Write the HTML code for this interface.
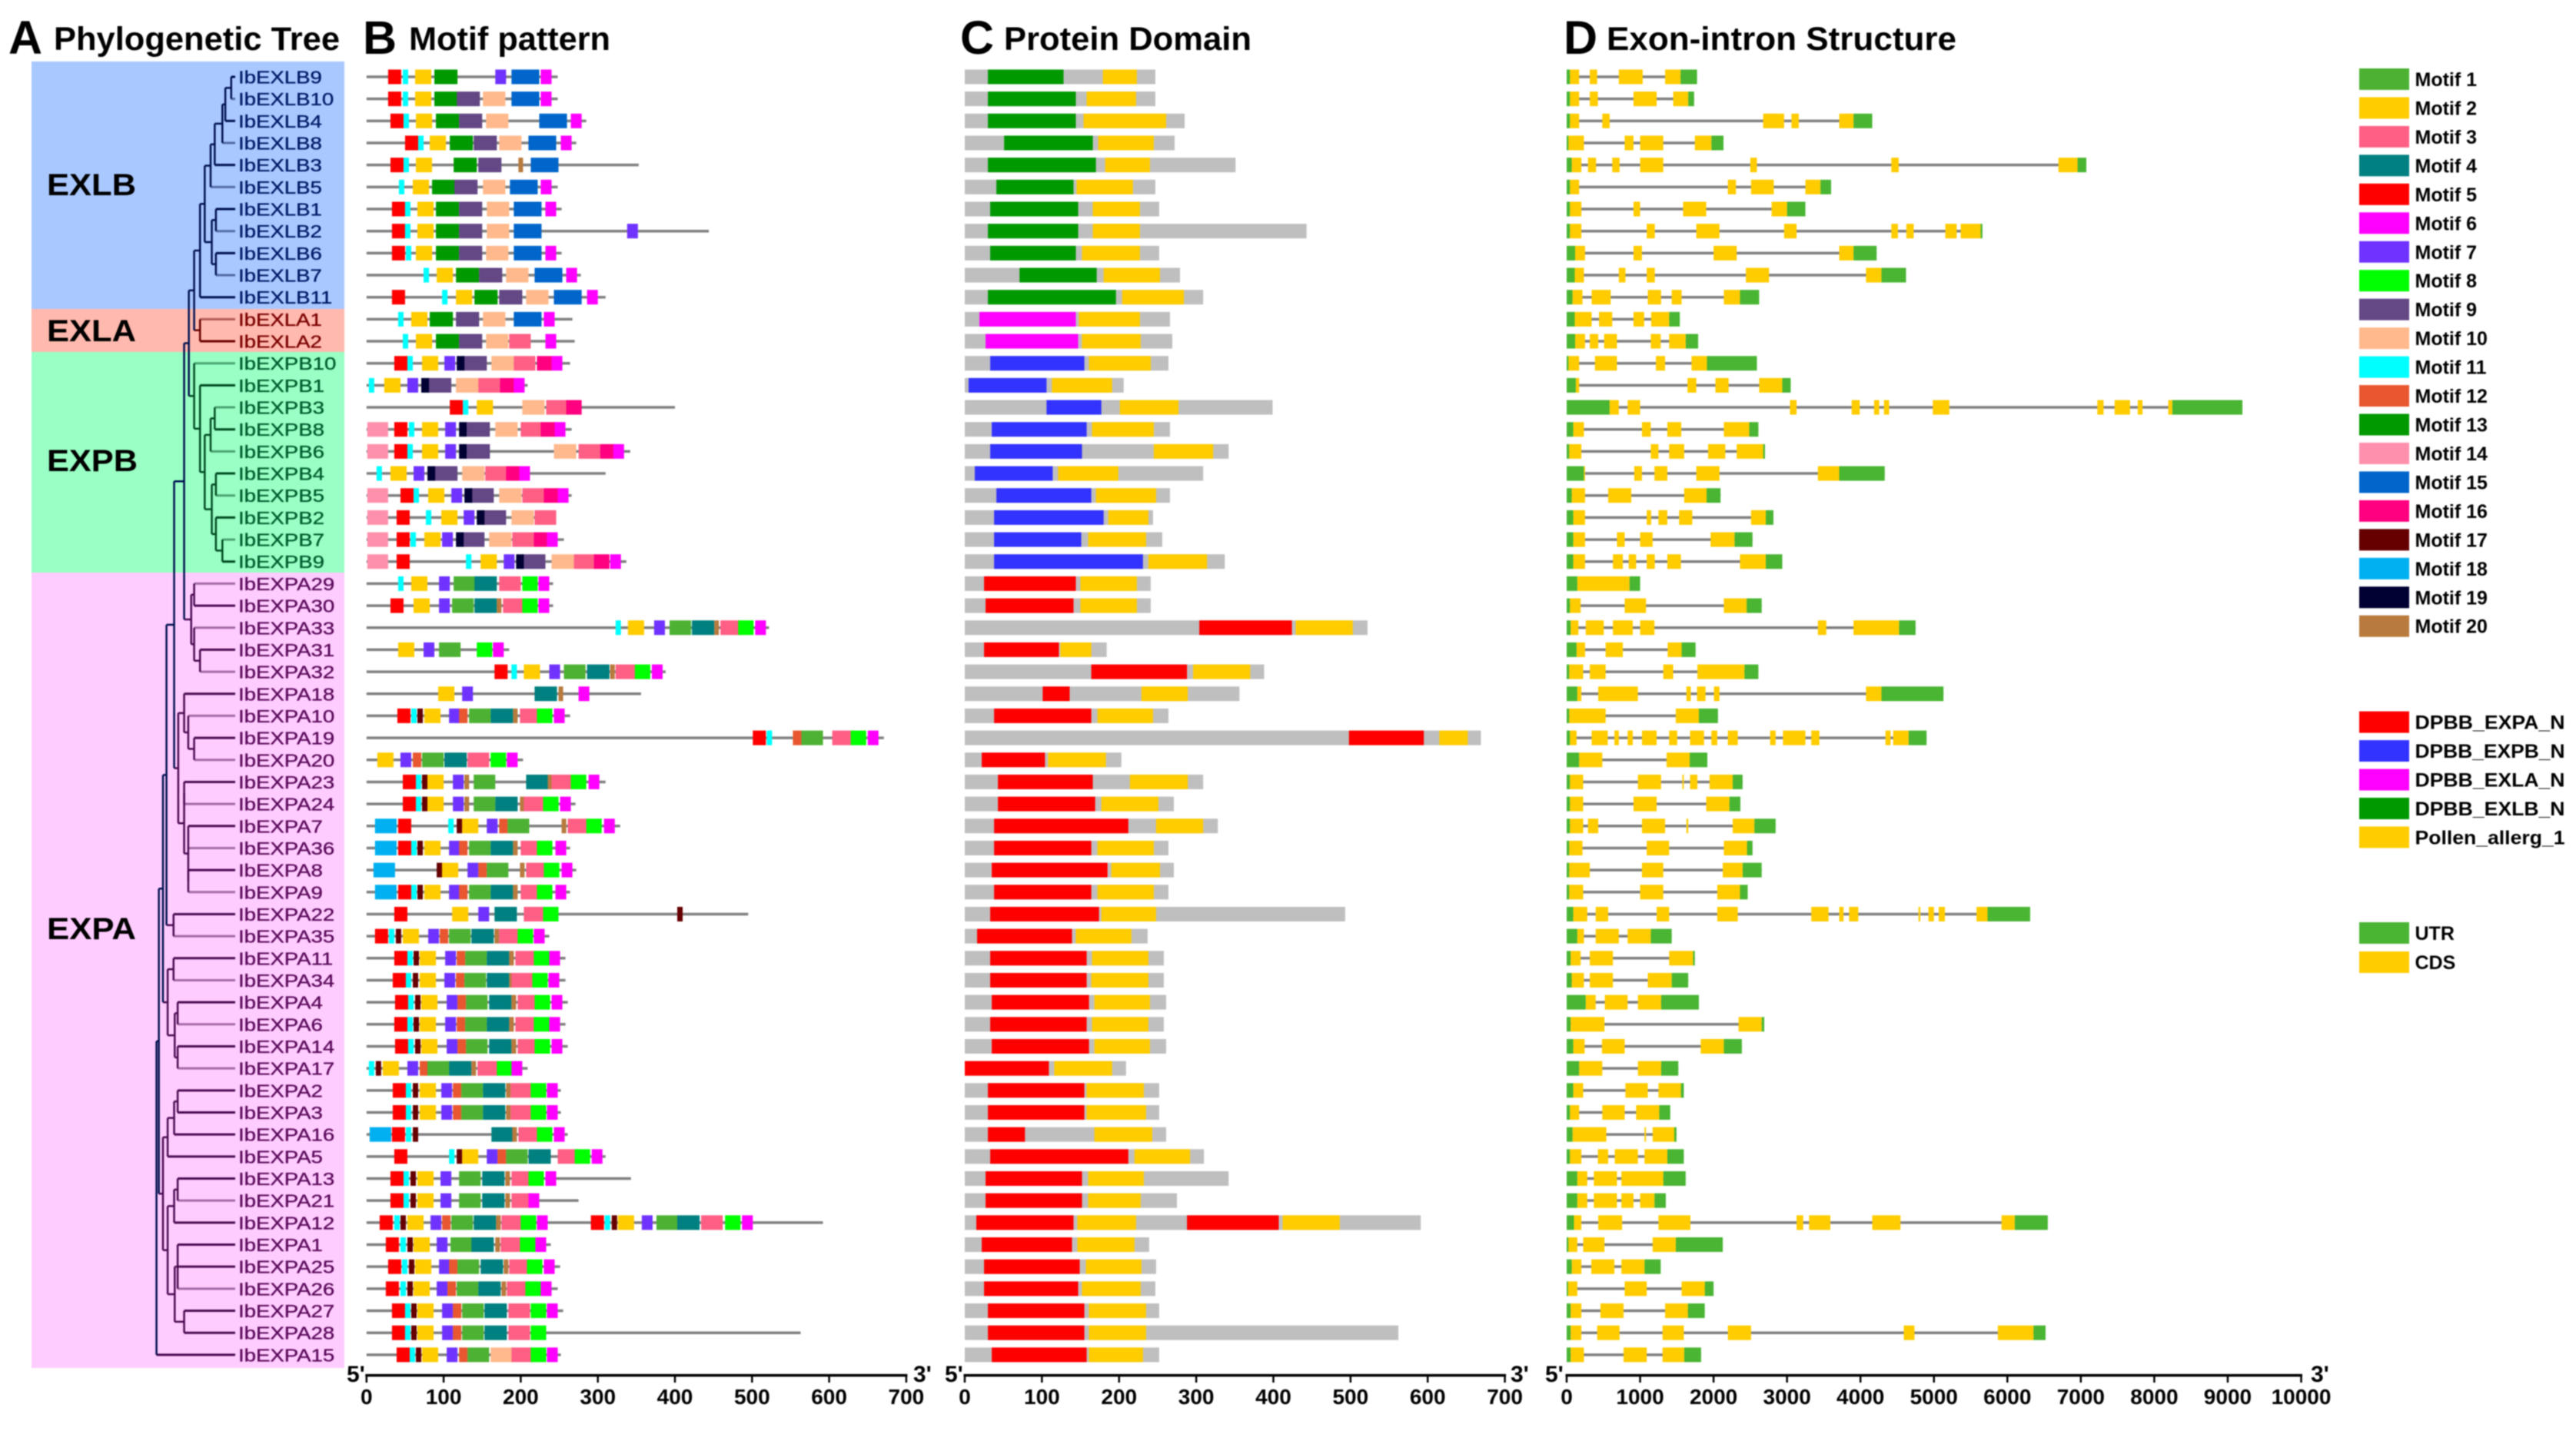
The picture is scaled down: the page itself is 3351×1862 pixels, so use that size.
<!DOCTYPE html>
<html lang="en">
<head>
<meta charset="utf-8">
<title>Expansin gene family: tree, motifs, domains and gene structure</title>
<style>
html,body{margin:0;padding:0;background:#fff;}
svg{display:block;font-family:"Liberation Sans",Arial,sans-serif;filter:blur(0.7px);}
</style>
</head>
<body>
<svg id="figure" xmlns="http://www.w3.org/2000/svg" width="3351" height="1862" viewBox="0 0 3351 1862">
  <rect x="0" y="0" width="3351" height="1862" fill="#fff"/>
  <g id="clade-bands">
    <rect x="41" y="80" width="407" height="322" fill="#a9c8ff"/>
    <rect x="41" y="402" width="407" height="56" fill="#ffb9ae"/>
    <rect x="41" y="458" width="407" height="287" fill="#99ffc4"/>
    <rect x="41" y="745" width="407" height="1035" fill="#ffccff"/>
  </g>
  <g font-weight="700" fill="#000">
    <text x="11" y="70" font-size="61">A</text>
    <text x="70" y="65" font-size="43" textLength="372" lengthAdjust="spacingAndGlyphs">Phylogenetic Tree</text>
    <text x="472" y="70" font-size="61">B</text>
    <text x="532" y="65" font-size="43" textLength="262" lengthAdjust="spacingAndGlyphs">Motif pattern</text>
    <text x="1249" y="70" font-size="61">C</text>
    <text x="1306" y="65" font-size="43" textLength="322" lengthAdjust="spacingAndGlyphs">Protein Domain</text>
    <text x="2034" y="70" font-size="61">D</text>
    <text x="2090" y="65" font-size="43" textLength="455" lengthAdjust="spacingAndGlyphs">Exon-intron Structure</text>
  </g>
  <g font-weight="700" font-size="40" fill="#000">
    <text x="61" y="254" textLength="116" lengthAdjust="spacingAndGlyphs">EXLB</text>
    <text x="61" y="444" textLength="116" lengthAdjust="spacingAndGlyphs">EXLA</text>
    <text x="61" y="613" textLength="118" lengthAdjust="spacingAndGlyphs">EXPB</text>
    <text x="61" y="1222" textLength="116" lengthAdjust="spacingAndGlyphs">EXPA</text>
  </g>
  <g id="tree"></g>
  <g id="labels"></g>
  <g id="motifs"></g>
  <g id="domains"></g>
  <g id="genes"></g>
  <g id="axes"></g>
  <g id="legend"></g>
</svg>
<script>
// ---------- shared data ----------
const geneNames = ['IbEXLB9','IbEXLB10','IbEXLB4','IbEXLB8','IbEXLB3','IbEXLB5','IbEXLB1','IbEXLB2','IbEXLB6','IbEXLB7','IbEXLB11','IbEXLA1','IbEXLA2','IbEXPB10','IbEXPB1','IbEXPB3','IbEXPB8','IbEXPB6','IbEXPB4','IbEXPB5','IbEXPB2','IbEXPB7','IbEXPB9','IbEXPA29','IbEXPA30','IbEXPA33','IbEXPA31','IbEXPA32','IbEXPA18','IbEXPA10','IbEXPA19','IbEXPA20','IbEXPA23','IbEXPA24','IbEXPA7','IbEXPA36','IbEXPA8','IbEXPA9','IbEXPA22','IbEXPA35','IbEXPA11','IbEXPA34','IbEXPA4','IbEXPA6','IbEXPA14','IbEXPA17','IbEXPA2','IbEXPA3','IbEXPA16','IbEXPA5','IbEXPA13','IbEXPA21','IbEXPA12','IbEXPA1','IbEXPA25','IbEXPA26','IbEXPA27','IbEXPA28','IbEXPA15'];

// Tree: [branch depth, ...children]; a bare number is a leaf (row index).
const cladeEXLB = [330,[340,[348,[358,[365,[378,[383,[393,0,1],2],3],4],5],[360,[367,6,7],[367,8,9]]],10],[340,11,12]];
const cladeEXPB = [330,13,[340,14,[348,[358,[365,15,16],17],[360,[367,18,19],[367,20,[378,21,22]]]]]];
const groupUpperEXPA = [325,[330,23,24],[330,25,[340,26,27]]];
const groupMidEXPA = [303,[313,28,[320,29,[330,30,31]]],[313,[313,32,33],[320,34,35,[320,36,37]]]];
const groupLowerEXPA = [285,[295,40,41],[297,[302,42,43],[302,44,45]]];
const groupTailEXPA = [277,[285,[296,[302,46,47],48],49],[285,[296,[302,50,51],52],[297,[302,53,54,55],[303,[313,56,57]]]]];
const treeRoot = [266,[270,[277,[283,[296,[313,[321,cladeEXLB,cladeEXPB],groupUpperEXPA],groupMidEXPA],[295,38,39]],groupLowerEXPA],groupTailEXPA],58];
const lightLeaves = [1,3,5,7,9,11,13,15,17,19,21,23,25,27,29,31,33,35,37,39,41,43,45,51,55];

// ---------- motif panel data ----------
const motifColors = ['#4db233','#ffcc00','#ff5f85','#008080','#ff0000','#ff00ff','#7033ff','#00ff00','#644785','#ffb98c','#00ffff','#e8572f','#009900','#ff90ac','#0066cc','#ff0080','#660000','#00b0f0','#000033','#b87a3d'];
const motifLengths = [28,21,28,29,17,14,14,20,30,29,7,11,30,27,36,20,7,28,10,6];
const proteinLengths = [248,248,285,272,353,248,253,444,253,278,310,267,270,264,209,400,266,342,310,266,245,256,337,242,242,522,185,388,356,264,671,203,310,271,329,264,272,264,495,237,258,258,261,258,261,209,252,252,261,310,343,275,592,239,251,248,255,563,252];
// flat pairs: motif number, start residue
const motifHits = [
[5,28,11,47,2,63,13,88,7,167,15,188,6,226],
[5,28,11,47,2,63,13,88,9,117,10,151,15,188,6,226],
[5,31,11,48,2,64,13,90,9,120,10,155,15,224,6,265],
[5,50,11,67,2,82,13,108,9,139,10,172,15,210,6,252],
[5,31,11,48,2,64,13,113,9,145,20,197,15,213],
[11,42,2,60,13,85,9,114,10,151,15,186,6,226],
[5,33,11,50,2,66,13,90,9,120,10,156,15,191,6,232],
[5,33,11,50,2,66,13,90,9,120,10,156,15,191,7,338],
[5,33,11,51,2,64,13,90,9,120,10,155,15,191,6,232],
[11,74,2,91,13,116,9,146,10,181,15,218,6,259],
[5,33,11,98,2,116,13,140,9,172,10,207,15,243,6,286],
[11,41,2,58,13,82,9,116,10,151,15,191,6,230],
[11,47,2,64,13,90,9,120,10,155,3,185,6,232],
[5,36,11,53,2,72,7,101,9,126,19,117,10,162,3,191,16,221,6,240],
[11,3,2,23,7,53,9,80,19,71,10,116,3,145,16,173,6,191],
[5,108,11,125,2,143,10,202,3,233,16,259],
[14,1,5,36,11,55,2,72,7,102,9,130,19,120,10,167,3,200,16,226,6,244],
[14,1,5,36,11,53,2,72,7,102,9,130,19,120,10,243,3,275,16,303,6,320],
[11,13,2,31,7,61,9,88,19,79,10,124,3,154,16,181,6,198],
[14,1,5,44,11,61,2,80,7,110,9,135,19,127,10,172,3,202,16,230,6,248],
[14,1,5,39,11,77,2,97,7,126,9,151,19,143,10,188,3,218],
[14,1,5,39,11,57,2,75,7,98,9,123,19,116,10,159,3,189,16,217,6,234],
[14,1,5,39,11,129,2,148,7,178,9,202,19,194,10,240,3,269,16,295,6,316],
[11,41,2,58,7,94,1,113,4,140,3,172,8,202,6,223],
[5,31,2,61,7,94,1,111,4,140,20,169,3,177,8,202,6,223],
[11,323,2,339,7,373,1,393,4,422,20,451,3,459,8,482,6,504],
[2,41,7,74,1,94,8,143,6,164],
[5,166,11,188,2,204,7,237,1,256,4,286,20,316,3,323,8,348,6,370],
[2,93,7,124,4,218,20,249,6,275],
[5,40,11,58,17,66,2,75,7,107,12,120,1,133,4,161,20,190,3,199,8,221,6,243],
[5,501,11,519,12,553,1,564,3,604,8,628,6,650],
[2,14,7,44,12,60,1,72,4,101,3,131,8,161,6,182],
[5,47,11,64,17,72,2,79,7,112,20,127,1,139,4,207,20,235,3,240,8,265,6,288],
[5,47,11,64,17,72,2,79,7,112,20,127,1,139,4,167,20,199,3,204,8,229,6,251],
[18,11,5,41,11,106,17,117,2,124,7,156,12,172,1,183,20,253,3,261,8,285,6,308],
[18,11,5,41,11,58,17,66,2,75,7,107,12,120,1,133,4,161,20,190,3,200,8,221,6,245],
[18,9,17,91,2,98,7,131,12,145,1,156,20,199,3,207,8,230,6,253],
[18,11,5,41,11,58,17,66,2,75,7,107,12,120,1,133,4,161,20,190,3,200,8,221,6,245],
[5,36,2,111,7,145,4,166,3,204,8,229,17,403],
[5,11,11,29,17,38,2,47,7,80,12,95,1,107,4,136,20,166,3,172,8,196,6,217],
[5,36,11,53,17,61,2,69,7,102,12,117,1,128,4,156,20,185,3,193,8,217,6,237],
[5,34,11,51,17,60,2,69,7,101,12,116,1,127,4,156,20,185,3,188,8,215,6,236],
[5,37,11,54,17,63,2,71,7,104,12,118,1,129,4,159,20,188,3,196,8,218,6,240],
[5,36,11,53,17,61,2,69,7,102,12,117,1,128,4,156,20,185,3,193,8,217,6,237],
[5,37,11,54,17,63,2,71,7,104,12,118,1,129,4,159,20,188,3,196,8,218,6,240],
[11,3,17,12,2,21,7,53,12,69,1,79,4,107,20,136,3,144,8,169,6,188],
[5,34,11,51,17,60,2,69,7,97,12,112,1,123,4,151,20,181,3,187,8,213,6,234],
[5,34,11,51,17,60,2,69,7,97,12,112,1,123,4,151,20,181,3,187,8,213,6,234],
[18,4,5,33,11,51,17,60,4,162,20,189,3,197,8,221,6,243],
[5,36,11,107,17,117,2,124,7,156,12,170,1,181,4,210,3,248,8,270,6,292],
[5,31,11,48,17,57,2,66,7,96,1,120,4,150,20,180,3,188,8,210,6,232],
[5,31,11,48,17,57,2,66,7,96,1,120,4,150,20,180,3,188,6,210],
[5,17,11,36,17,44,2,53,7,83,12,98,1,110,4,139,20,168,3,175,8,200,6,221,5,291,11,309,17,318,2,326,7,357,1,376,4,403,3,434,8,465,6,487],
[5,25,11,44,17,53,2,61,7,91,1,109,4,136,20,167,3,174,8,199,6,219],
[5,28,11,46,17,55,2,63,7,94,12,107,1,118,4,148,20,178,3,185,8,208,6,230],
[5,25,11,44,17,53,2,61,7,91,12,105,1,117,4,145,20,175,3,182,8,206,6,226],
[5,33,11,50,17,58,2,66,7,98,12,112,1,124,4,153,3,184,8,213,6,234],
[5,33,11,50,17,58,2,66,7,98,12,112,1,124,4,153,3,184,8,213],
[5,39,11,56,17,64,2,72,7,104,12,120,1,131,10,161,3,188,8,213,6,234]
];

// ---------- domain panel data ----------
const domainColors = {E:'#ff0000',B:'#3333ff',A:'#ff00ff',X:'#009900',P:'#ffcc00'};
const domainProteinLengths = [247,247,285,272,351,247,252,443,252,279,309,266,269,264,206,399,266,342,309,266,244,256,337,241,241,522,184,388,356,264,669,203,309,271,328,264,271,264,493,237,258,258,261,258,261,209,252,252,261,310,342,275,591,239,248,247,252,562,252];
// flat triples: domain key, start, end
const domainHits = [
['X',30,128,'P',179,223],['X',30,144,'P',158,222],['X',30,144,'P',154,261],['X',51,166,'P',173,245],['X',30,170,'P',182,240],['X',41,141,'P',145,218],['X',33,147,'P',166,227],['X',30,147,'P',166,227],['X',33,144,'P',152,227],['X',71,171,'P',180,253],['X',30,196,'P',204,284],
['A',19,144,'P',148,227],['A',27,147,'P',152,228],
['B',33,155,'P',161,241],['B',5,106,'P',113,191],['B',106,177,'P',201,277],['B',35,158,'P',165,245],['B',33,152,'P',245,322],['B',13,114,'P',121,199],['B',41,164,'P',170,248],['B',38,180,'P',186,238],['B',38,151,'P',160,235],['B',38,231,'P',238,314],
['E',25,144,'P',150,223],['E',27,141,'P',150,223],['E',304,424,'P',429,503],['E',25,122,'P',124,164],['E',164,288,'P',296,370],['E',101,136,'P',229,289],['E',38,164,'P',172,244],['E',498,595,'P',615,652],['E',22,104,'P',108,183],['E',43,166,'P',214,289],['E',43,169,'P',177,251],['E',38,212,'P',248,309],['E',38,164,'P',172,245],['E',35,185,'P',190,253],['E',38,164,'P',172,245],['E',33,174,'P',177,248],['E',16,139,'P',144,216],['E',33,158,'P',165,238],['E',33,158,'P',164,238],['E',35,161,'P',168,240],['E',33,158,'P',165,238],['E',35,161,'P',168,240],['E',0,109,'P',116,191],['E',30,155,'P',158,232],['E',30,155,'P',158,235],['E',30,78,'P',168,243],['E',33,212,'P',220,292],['E',27,152,'P',160,232],['E',27,152,'P',160,228],['E',15,141,'P',146,222,'E',288,407,'P',412,486],['E',22,139,'P',146,220],['E',25,149,'P',157,229],['E',25,147,'P',152,228],['E',30,155,'P',161,235],['E',30,155,'P',161,235],['E',35,158,'P',161,231]
];

// ---------- gene structure data ----------
const geneLengths = [1775,1735,4160,2135,7075,3600,3250,5660,4220,4620,2620,1540,1790,2590,3050,9200,2610,2700,4330,2095,2815,2530,2935,1000,2655,4750,1755,2610,5130,2060,4900,1915,2395,2365,2845,2530,2655,2465,6310,1430,1745,1655,1800,2690,2385,1520,1595,1410,1495,1595,1620,1350,6550,2125,1280,2000,1880,6520,1830];
// flat pairs: CDS start, CDS end (bp)
const cdsSegments = [
[45,170,315,415,710,1035,1340,1550],
[45,170,315,425,910,1225,1450,1655],
[45,170,485,585,2675,2960,3060,3160,3710,3905],
[25,235,790,910,1000,1315,1745,1970],
[70,200,290,400,620,720,1000,1315,2500,2590,4420,4520,6695,6955],
[45,170,2195,2305,2510,2820,3250,3455],
[45,200,910,1000,1585,1900,2790,3000],
[45,200,1090,1200,1765,2080,2960,3130,4420,4510,4625,4725,5155,5310,5365,5635],
[115,250,910,1025,2000,2315,3710,3905],
[110,235,710,800,1090,1200,2440,2755,4075,4285],
[80,215,340,600,1105,1285,1430,1565,2140,2360],
[110,340,440,620,910,1055,1150,1395],
[115,250,315,430,510,685,1145,1280,1395,1620],
[25,170,385,685,1215,1340,1700,1910],
[125,170,1645,1765,2025,2205,2620,2935],
[585,710,830,1000,3040,3130,3880,3990,4185,4255,4320,4390,4985,5210,7225,7310,7460,7670,7775,7840,8190,8245],
[90,235,1025,1145,1370,1560,2140,2485],
[35,200,1145,1250,1395,1600,1925,2160,2315,2675],
[235,250,920,1025,1195,1370,1765,2080,3420,3710],
[70,250,565,880,1600,1905],
[90,250,1090,1150,1250,1370,1530,1710,2510,2710],
[90,250,685,790,1000,1170,1960,2285],
[90,250,630,765,845,945,1090,1200,1370,1555,2360,2710],
[145,855],
[45,190,790,1080,2140,2450],
[55,160,260,505,630,900,1000,1195,3420,3535,3905,4525],
[135,250,530,765,1375,1565],
[35,225,315,530,1315,1450,1780,2420],
[145,200,430,970,1630,1690,1775,1890,2005,2080,4075,4285],
[35,530,1485,1800],
[45,135,340,560,650,710,830,900,1025,1225,1395,1505,1680,1870,1970,2050,2195,2330,2770,2845,2945,3250,3330,3440,4340,4410,4445,4655],
[170,485,1360,1675],
[45,225,970,1285,1575,1595,1680,1780,1945,2260],
[45,225,910,1225,1900,2215],
[45,225,290,430,1025,1340,1630,1655,2260,2555],
[35,215,1090,1395,2140,2455],
[35,315,1025,1315,2125,2395],
[35,225,1000,1315,2050,2360],
[90,280,395,565,1225,1395,2050,2330,3330,3565,3710,3770,3845,3970,4790,4815,4925,5000,5065,5150,5580,5730],
[145,235,395,710,830,1145],
[55,190,315,630,1395,1720],
[70,235,315,630,1105,1430],
[260,395,520,830,970,1285],
[55,515,2340,2655],
[90,245,480,790,1825,2140],
[170,485,970,1285],
[90,225,800,1105,1250,1555],
[45,170,485,790,945,1260],
[80,540,1060,1080,1170,1465],
[45,200,425,565,655,970,1060,1370],
[145,280,370,685,745,1315],
[145,280,370,685,745,910,1000,1195],
[100,200,430,755,1250,1685,3130,3220,3300,3590,4160,4545,5920,6100],
[25,145,225,515,1170,1485],
[70,200,335,650,745,1060],
[20,145,790,1090,1565,1880],
[55,200,460,775,1340,1650],
[55,200,415,720,1305,1595,2195,2510,4590,4735,5870,6355],
[55,235,775,1090,1305,1600]
];

// ---------- axis and legend data ----------
const proteinTicks = [0,100,200,300,400,500,600,700];
const geneTicks = [0,1000,2000,3000,4000,5000,6000,7000,8000,9000,10000];
const motifLabels = ['Motif 1','Motif 2','Motif 3','Motif 4','Motif 5','Motif 6','Motif 7','Motif 8','Motif 9','Motif 10','Motif 11','Motif 12','Motif 13','Motif 14','Motif 15','Motif 16','Motif 17','Motif 18','Motif 19','Motif 20'];
const domainLabels = ['DPBB_EXPA_N','DPBB_EXPB_N','DPBB_EXLA_N','DPBB_EXLB_N','Pollen_allerg_1'];
const domainLegendKeys = ['E','B','A','X','P'];
const structureLabels = ['UTR','CDS'];

// ---------- axis functions ----------
const rowY = i => 100 + i * 28.67;
const treeX = d => d * 0.7653;
const motifX = a => 476.8 + a * 1.003;
const domainX = a => 1255 + a * 1.0037;
const geneX = b => 2038 + b * 0.09555;
const BAR_H = 19;
const UTR_COLOR = '#49b533', CDS_COLOR = '#ffcc00', BACK_COLOR = '#bfbfbf', LINE_COLOR = '#808080';

const NS = 'http://www.w3.org/2000/svg';
function make(parent, tag, attrs, text) {
  const el = document.createElementNS(NS, tag);
  for (const k in attrs) el.setAttribute(k, attrs[k]);
  if (text !== undefined) el.textContent = text;
  parent.appendChild(el);
  return el;
}
const $ = id => document.getElementById(id);

function cladeIndex(r) { return r < 11 ? 0 : r < 13 ? 1 : r < 23 ? 2 : 3; }
const cladeDark = ['#00104f', '#6a0000', '#004a22', '#4a0a50'];
const cladeText = ['#001a66', '#7a0000', '#005c2e', '#5a0a5a'];

// ---------- tree ----------
function firstLeaf(n) { return typeof n === 'number' ? n : firstLeaf(n[1]); }
function drawTree(node, parentDepth) {
  const g = $('tree');
  if (typeof node === 'number') {
    const y = rowY(node);
    const leaf = make(g, 'line', {x1: treeX(parentDepth), x2: 306, y1: y, y2: y, stroke: cladeDark[cladeIndex(node)], 'stroke-width': 3, opacity: lightLeaves.includes(node) ? 0.5 : 1});
    
    
    return y;
  }
  const depth = node[0];
  const ys = node.slice(1).map(c => drawTree(c, depth));
  const top = ys[0], bottom = ys[ys.length - 1];
  const color = cladeDark[cladeIndex(firstLeaf(node))];
  const v = make(g, 'line', {x1: treeX(depth), x2: treeX(depth), y1: top, y2: bottom, stroke: color, 'stroke-width': 2.5});
  
  
  const mid = (top + bottom) / 2;
  if (parentDepth !== null) {
    const h = make(g, 'line', {x1: treeX(parentDepth), x2: treeX(depth), y1: mid, y2: mid, stroke: color, 'stroke-width': 2.5});
    
    
  }
  return mid;
}
drawTree(treeRoot, null);

// ---------- rows ----------
geneNames.forEach((name, i) => {
  const y = rowY(i);
  const label = make($('labels'), 'text', {transform: 'translate(310 ' + (y + 8.5) + ') scale(1.2 1)', 'font-size': 23, fill: cladeText[cladeIndex(i)], stroke: cladeText[cladeIndex(i)], 'stroke-width': 0.35}, name);
  
  

  // motifs
  const mLine = make($('motifs'), 'line', {x1: motifX(0), x2: motifX(proteinLengths[i]), y1: y, y2: y, stroke: LINE_COLOR, 'stroke-width': 3.5});
  
  
  const hits = motifHits[i];
  for (let k = 0; k < hits.length; k += 2) {
    const m = hits[k] - 1, s = hits[k + 1];
    const block = make($('motifs'), 'rect', {x: motifX(s), y: y - BAR_H / 2, width: motifX(s + motifLengths[m]) - motifX(s), height: BAR_H, fill: motifColors[m]});
    
    
  }

  // domains
  const back = make($('domains'), 'rect', {x: domainX(0), y: y - BAR_H / 2, width: domainX(domainProteinLengths[i]) - domainX(0), height: BAR_H, fill: BACK_COLOR});
  
  
  const dh = domainHits[i];
  for (let k = 0; k < dh.length; k += 3) {
    const d = make($('domains'), 'rect', {x: domainX(dh[k + 1]), y: y - BAR_H / 2, width: domainX(dh[k + 2]) - domainX(dh[k + 1]), height: BAR_H, fill: domainColors[dh[k]]});
    
    
  }

  // gene structure
  const gLine = make($('genes'), 'line', {x1: geneX(0), x2: geneX(geneLengths[i]), y1: y, y2: y, stroke: LINE_COLOR, 'stroke-width': 3.5});
  
  
  const cds = cdsSegments[i];
  const u5 = make($('genes'), 'rect', {x: geneX(0), y: y - BAR_H / 2, width: geneX(cds[0]) - geneX(0), height: BAR_H, fill: UTR_COLOR});
  
  
  const u3 = make($('genes'), 'rect', {x: geneX(cds[cds.length - 1]), y: y - BAR_H / 2, width: geneX(geneLengths[i]) - geneX(cds[cds.length - 1]), height: BAR_H, fill: UTR_COLOR});
  
  
  for (let k = 0; k < cds.length; k += 2) {
    const e = make($('genes'), 'rect', {x: geneX(cds[k]), y: y - BAR_H / 2, width: geneX(cds[k + 1]) - geneX(cds[k]), height: BAR_H, fill: CDS_COLOR});
    
    
  }
});

// ---------- axes ----------
function drawAxis(ticks, scale, fivePrimeX, threePrimeX) {
  const g = $('axes');
  const AXIS_Y = 1789.6;
  const first = scale(ticks[0]), last = scale(ticks[ticks.length - 1]);
  const base = make(g, 'line', {x1: first - 1.5, x2: last + 1.5, y1: AXIS_Y, y2: AXIS_Y, stroke: '#000', 'stroke-width': 3.5});
  
  
  ticks.forEach(t => {
    const x = scale(t);
    const tick = make(g, 'line', {x1: x, x2: x, y1: AXIS_Y, y2: 1799, stroke: '#000', 'stroke-width': 2.5});
    
    
    const lab = make(g, 'text', {x: x, y: 1827, 'text-anchor': 'middle', 'font-size': 28, 'font-weight': 700, fill: '#000'}, String(t));
    
    
  });
  const five = make(g, 'text', {x: fivePrimeX, y: 1798, 'font-size': 30, 'font-weight': 700, fill: '#000'}, "5'");
  
  
  const three = make(g, 'text', {x: threePrimeX, y: 1798, 'font-size': 30, 'font-weight': 700, fill: '#000'}, "3'");
  
  
}
drawAxis(proteinTicks, motifX, 451, 1188);
drawAxis(proteinTicks, domainX, 1229, 1965);
drawAxis(geneTicks, geneX, 2010, 3006);

// ---------- legend ----------
const LEG_X = 3069, LEG_W = 65, LEG_H = 28, TXT_X = 3141.5, LEG_STEP = 37.46;
function legendEntry(y, color, text, stretch) {
  const g = $('legend');
  const swatch = make(g, 'rect', {x: LEG_X, y: y - LEG_H / 2, width: LEG_W, height: LEG_H, fill: color});
  
  
  const attrs = {x: TXT_X, y: y + 9, 'font-size': 25, 'font-weight': 700, fill: '#000'};
  if (stretch) { attrs.textLength = stretch; attrs.lengthAdjust = 'spacingAndGlyphs'; }
  const label = make(g, 'text', attrs, text);
  
  
}
motifLabels.forEach((t, i) => legendEntry(103 + i * LEG_STEP, motifColors[i], t));
domainLabels.forEach((t, i) => legendEntry(939.6 + i * LEG_STEP, domainColors[domainLegendKeys[i]], t, 195));
legendEntry(1214, UTR_COLOR, structureLabels[0]);
legendEntry(1252, CDS_COLOR, structureLabels[1]);
</script>
</body>
</html>
